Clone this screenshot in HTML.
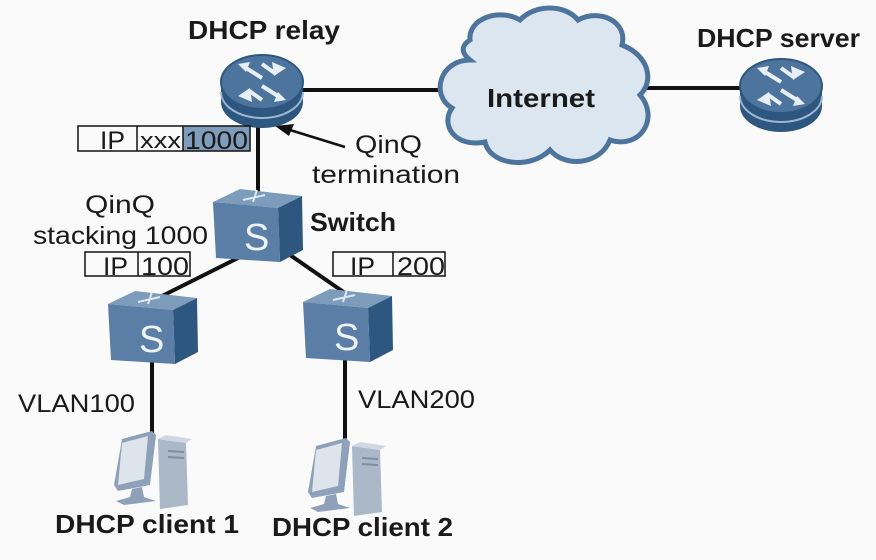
<!DOCTYPE html>
<html><head><meta charset="utf-8"><style>
html,body{margin:0;padding:0;background:#fafafa;}
svg{display:block;}
text{font-family:"Liberation Sans",sans-serif;fill:#1a1a1a;}
.b{font-weight:bold;}
</style></head><body>
<svg width="876" height="560" viewBox="0 0 876 560" xmlns="http://www.w3.org/2000/svg">
<defs>
<g id="router">
  <path d="M-41,0 L-41,20 A41,26 0 0 0 41,20 L41,0 Z" fill="#2e5780"/>
  <path d="M-41,10 A41,26 0 0 0 41,10" fill="none" stroke="#9db7d2" stroke-width="2"/>
  <ellipse cx="0" cy="0" rx="41" ry="27" fill="#4d749c" stroke="#2e5780" stroke-width="2"/>
  <g stroke="#e8eef5" stroke-width="4" fill="none">
    <path d="M-16,-14 L0,-4 M0,-18 L14,-8 M16,14 L0,4 M0,18 L-14,8"/>
  </g>
  <g fill="#e8eef5">
    <path d="M-24,-18 L-12,-20 L-16,-10Z M10,-20 L24,-14 L12,-6Z M24,18 L12,20 L16,10Z M-10,20 L-24,14 L-12,6Z"/>
  </g>
</g>
<g id="sw">
  <polygon points="0,12 27,-1 89,6 65,18" fill="#7d9bbb"/>
  <polygon points="65,18 89,6 90,60 67,72" fill="#2e5780"/>
  <polygon points="0,12 65,18 67,72 3,68" fill="#5a7ea5"/>
  <path d="M30,10 L52,5 M44,0 L40,12" stroke="#dfe7f0" stroke-width="2" fill="none"/>
  <text x="31" y="60" font-size="38" style="fill:#eef3f8">S</text>
</g>
<g id="pc">
  <polygon points="44,8 72,12 74,74 46,78" fill="#aab8c8"/>
  <polygon points="44,8 52,4 78,8 72,12" fill="#cfd8e2"/>
  <path d="M54,20 L70,21 M54,26 L70,27" stroke="#7d8ea3" stroke-width="2"/>
  <polygon points="8,8 38,0 42,4 36,54 4,60 0,54" fill="#8ea1b8"/>
  <polygon points="8,12 34,5 30,48 4,54" fill="#dde4ec"/>
  <polygon points="18,58 28,56 30,66 42,70 10,74 2,70 16,66" fill="#8ea1b8"/>
</g>
</defs>

<g stroke="#111" stroke-width="4" fill="none">
  <line x1="300" y1="90" x2="450" y2="90"/>
  <line x1="645" y1="88" x2="745" y2="88"/>
  <line x1="258" y1="105" x2="258" y2="200"/>
  <line x1="238" y1="258" x2="150" y2="302"/>
  <line x1="290" y1="255" x2="358" y2="302"/>
  <line x1="152" y1="360" x2="152" y2="440"/>
  <line x1="345" y1="360" x2="345" y2="444"/>
</g>
<line x1="345" y1="147" x2="290" y2="130" stroke="#111" stroke-width="2.5"/>
<polygon points="275,126 294,124 289,136" fill="#111"/>

<path d="M470,40 C468,18 500,8 520,20 C535,4 565,4 578,20 C600,8 628,22 622,45 C648,55 655,80 640,95 C660,118 640,150 610,140 C600,165 565,168 550,150 C530,170 490,165 485,142 C455,148 440,125 452,108 C430,95 440,60 470,60 C460,52 462,45 470,40Z" fill="#dbe6f0" stroke="#4d749c" stroke-width="5"/>
<text x="487" y="107" font-size="26" class="b" textLength="108" lengthAdjust="spacingAndGlyphs">Internet</text>

<use href="#router" x="262" y="82"/>
<use href="#router" x="781" y="86"/>
<text x="188" y="39" font-size="26" class="b" textLength="152" lengthAdjust="spacingAndGlyphs">DHCP relay</text>
<text x="697" y="47" font-size="26" class="b" textLength="163" lengthAdjust="spacingAndGlyphs">DHCP server</text>

<rect x="183" y="126" width="67" height="25" fill="#7f9cba"/>
<rect x="78" y="126" width="172" height="25" fill="none" stroke="#111" stroke-width="1.5"/>
<line x1="137" y1="126" x2="137" y2="151" stroke="#111" stroke-width="1.5"/>
<line x1="183" y1="126" x2="183" y2="151" stroke="#111" stroke-width="1.5"/>
<text x="100" y="149" font-size="25" textLength="25" lengthAdjust="spacingAndGlyphs">IP</text>
<text x="140" y="148" font-size="22" textLength="41" lengthAdjust="spacingAndGlyphs">xxx</text>
<text x="185" y="149" font-size="25" textLength="63" lengthAdjust="spacingAndGlyphs">1000</text>

<text x="355" y="153" font-size="25" textLength="67" lengthAdjust="spacingAndGlyphs">QinQ</text>
<text x="312" y="183" font-size="25" textLength="148" lengthAdjust="spacingAndGlyphs">termination</text>

<use href="#sw" x="213" y="190"/>
<text x="310" y="231" font-size="26" class="b" textLength="86" lengthAdjust="spacingAndGlyphs">Switch</text>
<text x="85" y="213" font-size="25" textLength="70" lengthAdjust="spacingAndGlyphs">QinQ</text>
<text x="33" y="244" font-size="25" textLength="175" lengthAdjust="spacingAndGlyphs">stacking 1000</text>

<rect x="85" y="252" width="105" height="24" fill="none" stroke="#111" stroke-width="1.5"/>
<line x1="138" y1="252" x2="138" y2="276" stroke="#111" stroke-width="1.5"/>
<text x="103" y="275" font-size="25" textLength="25" lengthAdjust="spacingAndGlyphs">IP</text>
<text x="141" y="275" font-size="25" textLength="48" lengthAdjust="spacingAndGlyphs">100</text>
<rect x="333" y="252" width="112" height="24" fill="none" stroke="#111" stroke-width="1.5"/>
<line x1="393" y1="252" x2="393" y2="276" stroke="#111" stroke-width="1.5"/>
<text x="350" y="275" font-size="25" textLength="25" lengthAdjust="spacingAndGlyphs">IP</text>
<text x="397" y="275" font-size="25" textLength="48" lengthAdjust="spacingAndGlyphs">200</text>

<use href="#sw" x="108" y="292"/>
<use href="#sw" x="303" y="290"/>

<text x="18" y="412" font-size="25" textLength="117" lengthAdjust="spacingAndGlyphs">VLAN100</text>
<text x="358" y="408" font-size="25" textLength="117" lengthAdjust="spacingAndGlyphs">VLAN200</text>

<use href="#pc" x="114" y="431"/>
<use href="#pc" x="308" y="438"/>

<text x="55" y="533" font-size="26" class="b" textLength="184" lengthAdjust="spacingAndGlyphs">DHCP client 1</text>
<text x="272" y="536" font-size="26" class="b" textLength="181" lengthAdjust="spacingAndGlyphs">DHCP client 2</text>
</svg>
</body></html>
